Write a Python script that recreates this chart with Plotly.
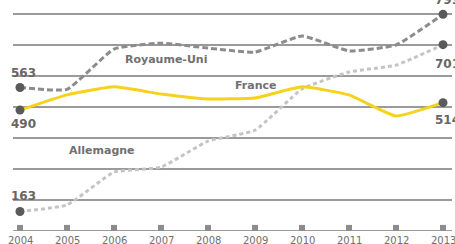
import plotly.graph_objects as go

years = [2004, 2005, 2006, 2007, 2008, 2009, 2010, 2011, 2012, 2013]
royaume_uni = [563, 557, 687, 706, 690, 677, 729, 681, 700, 799]
allemagne = [163, 184, 290, 306, 390, 425, 558, 613, 635, 701]
france = [490, 539, 565, 542, 526, 529, 565, 539, 471, 514]
gridvals = [200, 300, 400, 500, 600, 700, 800]
year_labels = [str(y) for y in years]

FONT = "DejaVu Sans"
fig = go.Figure()

# gridlines
for g in gridvals:
    fig.add_shape(type="line", xref="paper", yref="y", x0=13/455, x1=452/455,
                  y0=g, y1=g, line=dict(color="#9a9a9a", width=2), layer="below")
# baseline
fig.add_shape(type="line", xref="paper", yref="y", x0=13/455, x1=452/455,
              y0=100, y1=100, line=dict(color="#9a9a9a", width=2), layer="below")

# tick squares
fig.add_trace(go.Scatter(x=years, y=[110]*len(years), mode="markers",
                         marker=dict(symbol="square", size=6, color="#8c8c8c"),
                         hoverinfo="skip", showlegend=False))

fig.add_trace(go.Scatter(x=years, y=allemagne, mode="lines",
                         line=dict(color="#c4c4c4", width=3, dash="4px,3px", shape="spline", smoothing=0.4),
                         showlegend=False))
fig.add_trace(go.Scatter(x=years, y=royaume_uni, mode="lines",
                         line=dict(color="#8c8c8c", width=3, dash="6px,3px", shape="spline", smoothing=0.4),
                         showlegend=False))
fig.add_trace(go.Scatter(x=years, y=france, mode="lines",
                         line=dict(color="#f5d21c", width=3, shape="spline", smoothing=0.4),
                         showlegend=False))

# end markers
for s in (royaume_uni, allemagne, france):
    fig.add_trace(go.Scatter(x=[years[0], years[-1]], y=[s[0], s[-1]], mode="markers",
                             marker=dict(size=9, color="#5a5a5a"), showlegend=False))

lab = dict(font=dict(family=FONT, size=12, color="#666666"), showarrow=False)
fig.add_annotation(x=years[0], y=royaume_uni[0], text=f"<b>{royaume_uni[0]}</b>", xshift=3, yshift=14, xanchor="center", **lab)
fig.add_annotation(x=years[0], y=france[0], text=f"<b>{france[0]}</b>", xshift=3, yshift=-14, xanchor="center", **lab)
fig.add_annotation(x=years[0], y=allemagne[0], text=f"<b>{allemagne[0]}</b>", xshift=3, yshift=15, xanchor="center", **lab)
fig.add_annotation(x=years[-1], y=royaume_uni[-1], text=f"<b>{royaume_uni[-1]}</b>", xshift=-10, yshift=14, xanchor="left", **lab)
fig.add_annotation(x=years[-1], y=allemagne[-1], text=f"<b>{allemagne[-1]}</b>", xshift=-10, yshift=-19, xanchor="left", **lab)
fig.add_annotation(x=years[-1], y=france[-1], text=f"<b>{france[-1]}</b>", xshift=-10, yshift=-17, xanchor="left", **lab)

nm = dict(font=dict(family=FONT, size=11, color="#707070"), showarrow=False)
fig.add_annotation(x=2007.11, y=652, text="<b>Royaume-Uni</b>", **nm)
fig.add_annotation(x=2009.0, y=568, text="<b>France</b>", **nm)
fig.add_annotation(x=2005.74, y=361, text="<b>Allemagne</b>", **nm)

# year labels
for yr, t in zip(years, year_labels):
    fig.add_annotation(x=yr, y=100, text=t, yanchor="top", yshift=-2, showarrow=False,
                       font=dict(family=FONT, size=10, color="#6e6e6e"))

x0 = 2004 - 20/47
fig.update_layout(
    width=455, height=244,
    margin=dict(l=0, r=0, t=0, b=13),
    paper_bgcolor="white", plot_bgcolor="white",
    xaxis=dict(range=[x0, x0 + 455/47], showgrid=False, zeroline=False, showline=False,
               automargin=False, showticklabels=False),
    yaxis=dict(range=[100, 800 + 14/0.31], showgrid=False, zeroline=False, automargin=False,
               showticklabels=False, showline=False),
)
fig.write_html("out.html", config={"displayModeBar": False},
               post_script="document.body.style.margin='0';document.body.style.overflow='hidden';")
